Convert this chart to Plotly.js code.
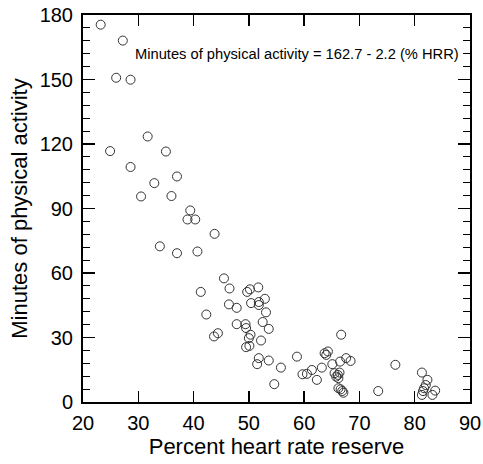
<!DOCTYPE html>
<html>
<head>
<meta charset="utf-8">
<script src="https://cdn.plot.ly/plotly-3.0.1.min.js"></script>
<style>html,body{margin:0;padding:0;background:#fff;}#chart{width:483px;height:464px;}</style>
</head>
<body>
<div id="chart"></div>
<script>
// Percent heart rate reserve (%HRR)
const hrr = [
  23.2, 27.2, 26.0, 28.6, 31.7, 24.9, 35.0, 28.6, 37.0, 32.9,
  30.5, 36.0, 39.4, 38.9, 40.3, 43.8, 33.9, 37.0, 40.7,
  45.5, 46.5, 41.3, 49.7, 50.2, 51.7, 46.4, 47.8, 50.4, 51.8,
  51.8, 52.9, 53.1, 42.3, 47.8, 49.4, 49.5, 52.5, 53.6, 50.3,
  50.0, 52.2, 43.7, 44.4, 50.1, 49.5,
  51.8, 51.5, 53.6, 55.8, 54.6, 58.7,
  66.7, 63.7, 64.0, 64.3, 67.6, 68.4, 66.5, 65.1, 63.2, 61.4,
  59.7, 60.5, 62.3, 65.5, 66.1, 66.4, 65.8, 66.2, 66.2, 66.6,
  66.9, 67.1,
  76.5, 73.4, 81.3, 82.3, 82.0, 81.7, 81.5, 81.3, 83.7, 83.2
];
// Minutes of physical activity
const minutes = [
  175.5, 168.1, 150.8, 149.9, 123.5, 116.7, 116.5, 109.3, 104.9, 101.8,
  95.6, 95.8, 89.1, 84.9, 84.9, 78.2, 72.4, 69.2, 70.0,
  57.5, 52.8, 51.2, 51.2, 52.4, 53.3, 45.4, 43.8, 46.0, 46.5,
  45.1, 48.0, 41.7, 40.7, 36.2, 36.2, 34.4, 37.2, 34.0, 31.3,
  29.7, 28.6, 30.5, 32.0, 26.1, 25.5,
  20.4, 17.6, 19.3, 16.0, 8.3, 21.1,
  31.3, 22.7, 21.9, 23.5, 20.4, 19.1, 18.8, 17.6, 16.0, 14.9,
  12.9, 13.1, 10.3, 13.4, 12.6, 13.7, 11.8, 11.1, 6.4, 5.9,
  5.1, 4.3,
  17.3, 5.1, 13.7, 10.3, 7.9, 6.4, 5.1, 3.3, 5.3, 3.3
];
const equationText = "Minutes of physical activity = 162.7 - 2.2 (% HRR)";
const xTitle = "Percent heart rate reserve";
const yTitle = "Minutes of physical activity";

const font = "Liberation Sans, Arial, sans-serif";

Plotly.newPlot("chart", [{
  type: "scatter",
  mode: "markers",
  x: hrr,
  y: minutes,
  marker: {symbol: "circle-open", size: 9, color: "#333", line: {width: 1, color: "#333"}},
  hoverinfo: "x+y"
}], {
  width: 483, height: 464,
  margin: {l: 83, r: 13, t: 15, b: 62},
  paper_bgcolor: "#fff", plot_bgcolor: "#fff",
  showlegend: false,
  font: {family: font, color: "#000"},
  xaxis: {
    range: [20, 90], dtick: 10, tick0: 20,
    showgrid: false, zeroline: false,
    showline: true, linecolor: "#000", linewidth: 2, mirror: "ticks",
    ticks: "inside", ticklen: 11, tickwidth: 1.5, tickcolor: "#000",
    ticklabelstandoff: 2,
    tickfont: {size: 20, family: font, color: "#000"},
    title: {text: xTitle, font: {size: 22, family: font, color: "#000"}, standoff: 4}
  },
  yaxis: {
    range: [0, 180], dtick: 30, tick0: 0,
    showgrid: false, zeroline: false,
    showline: true, linecolor: "#000", linewidth: 2, mirror: "ticks",
    ticks: "inside", ticklen: 12, tickwidth: 1.5, tickcolor: "#000",
    ticklabelstandoff: 4,
    minor: {dtick: 6, ticks: "inside", ticklen: 7, tickwidth: 1, tickcolor: "#000", showgrid: false},
    tickfont: {size: 20, family: font, color: "#000"},
    title: {text: yTitle, font: {size: 22, family: font, color: "#000"}, standoff: 6}
  },
  annotations: [{
    x: 29.0, y: 162, xref: "x", yref: "y", xanchor: "left", yanchor: "middle",
    text: equationText, showarrow: false,
    font: {size: 14.7, family: font, color: "#000"}
  }]
}, {displayModeBar: false, staticPlot: true});
</script>
</body>
</html>
